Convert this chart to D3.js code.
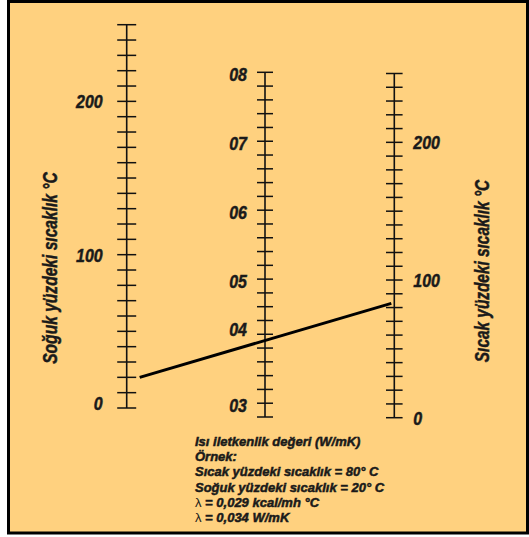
<!DOCTYPE html>
<html>
<head>
<meta charset="utf-8">
<script src="https://cdn.jsdelivr.net/npm/d3@7"></script>
<style>
  body { margin: 0; background: #fff; }
  text { font-family: "Liberation Sans", Arial, sans-serif; font-weight: bold; font-style: italic; fill: #1a1a1a; stroke: #1a1a1a; stroke-width: 0.5px; }
  .lam { font-style: normal; font-weight: normal; stroke-width: 0; }
</style>
</head>
<body>
<div id="chart"></div>
<script>
// Chart size
var svgWidth = 529;
var svgHeight = 537;

// Nomogram data
var coldTicks = d3.range(0, 251, 10);
var coldLabels = [0, 100, 200];
var hotTicks = d3.range(0, 251, 10);
var hotLabels = [0, 100, 200];
var lambdaTickCount = 26;
var lambdaLabels = ["08", "07", "06", "05", "04", "03"];
var lambdaLabelPos = [0, 5, 10, 15, 18.5, 24]; // in tick steps from top
var exampleCold = 20;
var exampleHot = 83;
var noteLines = [
  "Isı iletkenlik değeri (W/mK)",
  "Örnek:",
  "Sıcak yüzdeki sıcaklık = 80° C",
  "Soğuk yüzdeki sıcaklık = 20° C",
  "λ = 0,029 kcal/mh °C",
  "λ = 0,034 W/mK"
];

// Axis x positions
var xCold = 126.7, xLambda = 265, xHot = 394.3;
// narrow look, no condensed font installed
var squeeze = 0.84;

var svg = d3.select("#chart").append("svg")
  .attr("width", svgWidth)
  .attr("height", svgHeight);

// background + frame
svg.append("rect")
  .attr("x", 8.5).attr("y", 1.5)
  .attr("width", 519).attr("height", 531.5)
  .attr("fill", "#FFD17F")
  .attr("stroke", "#000")
  .attr("stroke-width", 3);

// scales
var yCold = d3.scaleLinear().domain([0, 250]).range([408, 24.7]);
var yHot = d3.scaleLinear().domain([0, 250]).range([417.7, 73.5]);
var yLambda = d3.scaleLinear().domain([0, lambdaTickCount - 1]).range([72.3, 417]);

function drawScale(x, scale, ticks, half) {
  var g = svg.append("g");
  g.append("line")
    .attr("x1", x).attr("x2", x)
    .attr("y1", scale(ticks[0])).attr("y2", scale(ticks[ticks.length - 1]))
    .attr("stroke", "#111").attr("stroke-width", 1.6);
  g.selectAll("line.tick")
    .data(ticks)
    .enter()
    .append("line")
    .attr("class", "tick")
    .attr("x1", x - half).attr("x2", x + half)
    .attr("y1", d => scale(d)).attr("y2", d => scale(d))
    .attr("stroke", "#111").attr("stroke-width", 1.5);
  return g;
}

drawScale(xCold, yCold, coldTicks, 9.5);
drawScale(xLambda, yLambda, d3.range(lambdaTickCount), 8);
drawScale(xHot, yHot, hotTicks, 8.3);

// tick labels ("0" on the left sits a bit above its tick)
svg.selectAll("text.cold")
  .data(coldLabels)
  .enter()
  .append("text")
  .attr("class", "cold")
  .attr("transform", d => `translate(${xCold - 24}, ${yCold(d) - (d === 0 ? 5 : 0)}) scale(${squeeze}, 1)`)
  .attr("dy", "0.36em")
  .attr("text-anchor", "end")
  .attr("font-size", 19)
  .text(d => d);

svg.selectAll("text.hot")
  .data(hotLabels)
  .enter()
  .append("text")
  .attr("class", "hot")
  .attr("transform", d => `translate(${xHot + 19}, ${yHot(d)}) scale(${squeeze}, 1)`)
  .attr("dy", "0.36em")
  .attr("font-size", 19)
  .text(d => d);

svg.selectAll("text.lambda")
  .data(lambdaLabels)
  .enter()
  .append("text")
  .attr("class", "lambda")
  .attr("transform", (d, i) => `translate(${xLambda - 18}, ${yLambda(lambdaLabelPos[i]) + 1.7}) scale(${squeeze}, 1)`)
  .attr("dy", "0.36em")
  .attr("text-anchor", "end")
  .attr("font-size", 19)
  .text(d => d);

// axis titles
svg.append("text")
  .attr("transform", "translate(50, 268) rotate(-90) scale(0.78, 1)")
  .attr("dy", "0.36em")
  .attr("text-anchor", "middle")
  .attr("font-size", 20)
  .text("Soğuk yüzdeki sıcaklık °C");

svg.append("text")
  .attr("transform", "translate(482, 271) rotate(-90) scale(0.77, 1)")
  .attr("dy", "0.36em")
  .attr("text-anchor", "middle")
  .attr("font-size", 20)
  .text("Sıcak yüzdeki sıcaklık °C");

// example line
svg.append("line")
  .attr("x1", xCold + 13).attr("y1", yCold(exampleCold))
  .attr("x2", xHot - 3).attr("y2", yHot(exampleHot))
  .attr("stroke", "#000")
  .attr("stroke-width", 3);

// notes
var notes = svg.selectAll("text.note")
  .data(noteLines)
  .enter()
  .append("text")
  .attr("class", "note")
  .attr("transform", (d, i) => `translate(195, ${446 + i * 15.2})`)
  .attr("font-size", 13);

notes.each(function(d) {
  var t = d3.select(this);
  if (d.startsWith("λ")) {
    t.append("tspan").attr("class", "lam").text("λ");
    t.append("tspan").text(d.slice(1));
  } else {
    t.text(d);
  }
});
</script>
</body>
</html>
